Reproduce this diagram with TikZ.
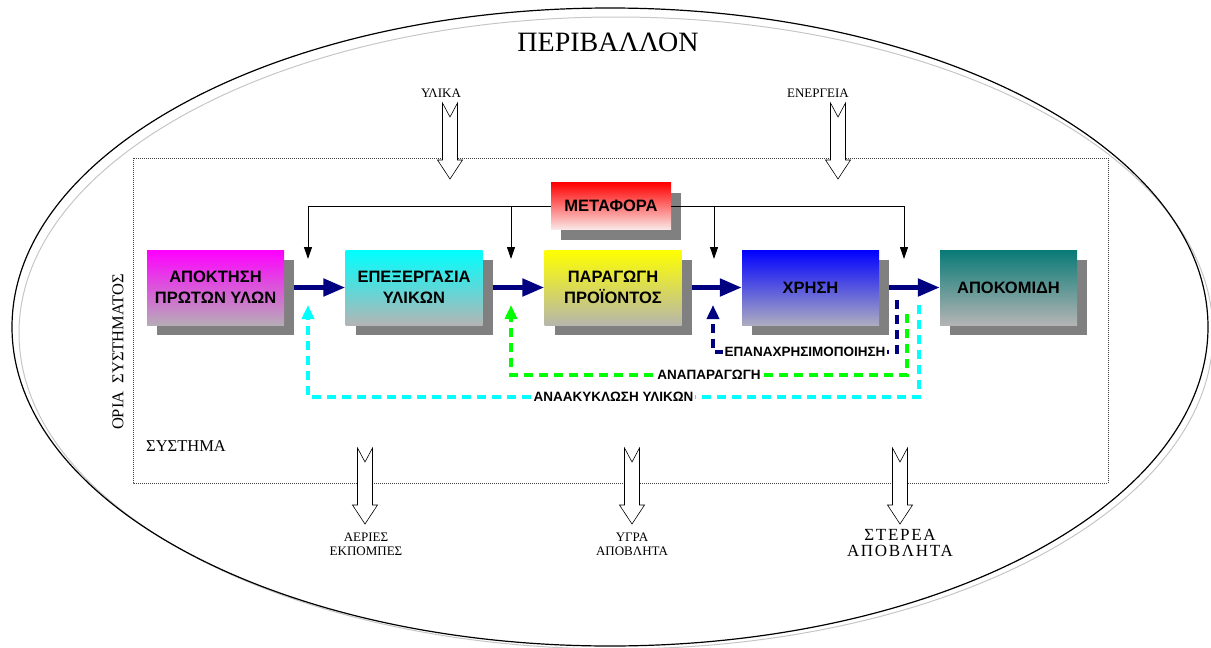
\documentclass[tikz,border=0pt]{standalone}
\usepackage{fontspec}
\setmainfont{Liberation Serif}
\newfontfamily\boxfont{Liberation Sans}
\usetikzlibrary{arrows.meta,shadows}

\definecolor{shadowgray}{RGB}{128,128,128}
\definecolor{navyflow}{RGB}{0,0,128}
\definecolor{cyanflow}{RGB}{0,255,255}
\definecolor{greenflow}{RGB}{0,255,0}
\definecolor{boxbottom}{RGB}{180,180,180}

\tikzset{
  procbox/.style={minimum width=137pt, minimum height=75pt, inner sep=0pt,
    align=center, font=\boxfont\bfseries\fontsize{16.5}{21}\selectfont,
    general shadow={fill=shadowgray, shadow xshift=10pt, shadow yshift=-10pt},
    shading=axis, bottom color=boxbottom},
  flow/.style={navyflow, line width=5pt, -{Triangle[width=17pt,length=22pt]}},
  feed/.style={black, line width=1pt, -{Triangle[width=8pt,length=12pt]}},
  loop/.style={line width=3.5pt, dash pattern=on 9pt off 6pt,
    -{Triangle[width=12pt,length=14pt]}},
  looplabel/.style={fill=white, inner sep=1.5pt, text=black,
    font=\boxfont\bfseries\fontsize{13.5}{16}\selectfont},
  serifsmall/.style={font=\fontsize{13}{14}\selectfont, align=center},
  blockarrow/.pic={
    \draw[fill=white, line width=0.6pt]
      (-7.5,0) -- (0,14) -- (7.5,0) -- (7.5,57) -- (12.5,57) -- (0,76)
      -- (-12.5,57) -- (-7.5,57) -- cycle;
  }
}

\begin{document}
\begin{tikzpicture}[x=1pt, y=-1pt]
\useasboundingbox (0,0) rectangle (1211,648);

% environment boundary
\draw[gray!45, line width=1pt] (616,333) ellipse [x radius=597pt, y radius=316pt];
\draw[black, line width=1.2pt] (610,327) ellipse [x radius=598pt, y radius=319pt];

% system boundary
\draw[black!75, line width=0.8pt, dash pattern=on 1pt off 1pt] (133,158) rectangle (1108,483);

% transport box
\node[procbox, minimum width=120pt, minimum height=47pt,
      top color={rgb,255:red,255;green,0;blue,0}, bottom color={rgb,255:red,250;green,232;blue,232}]
      (mt) at (611,206) {ΜΕΤΑΦΟΡΑ};

% process chain
\node[procbox, top color={rgb,255:red,255;green,0;blue,255}, bottom color={rgb,255:red,182;green,172;blue,182}]
      (b1) at (215.5,287.5) {ΑΠΟΚΤΗΣΗ\\ΠΡΩΤΩΝ ΥΛΩΝ};
\node[procbox, top color={rgb,255:red,0;green,255;blue,255}]
      (b2) at (414,287.5) {ΕΠΕΞΕΡΓΑΣΙΑ\\ΥΛΙΚΩΝ};
\node[procbox, top color={rgb,255:red,255;green,255;blue,0}, bottom color={rgb,255:red,182;green,182;blue,172}]
      (b3) at (613,287.5) {ΠΑΡΑΓΩΓΗ\\ΠΡΟΪΟΝΤΟΣ};
\node[procbox, top color={rgb,255:red,0;green,0;blue,255}, bottom color={rgb,255:red,172;green,172;blue,192}]
      (b4) at (810.5,287.5) {ΧΡΗΣΗ};
\node[procbox, top color={rgb,255:red,8;green,122;blue,118}]
      (b5) at (1008.5,287.5) {ΑΠΟΚΟΜΙΔΗ};

% transport feeds
\coordinate (d1) at (308,259);
\coordinate (d2) at (511,259);
\coordinate (d3) at (714,259);
\coordinate (d4) at (904,259);
\draw[feed] (mt.west) -| (d1);
\draw[feed] (mt.west) -| (d2);
\draw[feed] (mt.east) -| (d3);
\draw[feed] (mt.east) -| (d4);

% main flow
\draw[flow] ([xshift=10pt]b1.east) -- (b2.west);
\draw[flow] ([xshift=10pt]b2.east) -- (b3.west);
\draw[flow] ([xshift=10pt]b3.east) -- (b4.west);
\draw[flow] ([xshift=10pt]b4.east) -- (b5.west);

% reuse loop
\coordinate (n0) at (897,300);
\coordinate (n1) at (897,352);
\coordinate (n2) at (713,352);
\coordinate (n3) at (713,305);
\draw[loop, navyflow] (n0) -- (n1) -- node[looplabel]{ΕΠΑΝΑΧΡΗΣΙΜΟΠΟΙΗΣΗ} (n2) -- (n3);

% remanufacturing loop
\coordinate (g0) at (907,314);
\coordinate (g1) at (907,375);
\coordinate (g2) at (511,375);
\coordinate (g3) at (511,305);
\draw[loop, greenflow] (g0) -- (g1) -- node[looplabel]{ΑΝΑΠΑΡΑΓΩΓΗ} (g2) -- (g3);

% recycling loop
\coordinate (c0) at (919,305);
\coordinate (c1) at (919,397);
\coordinate (c2) at (308,397);
\coordinate (c3) at (308,305);
\draw[loop, cyanflow] (c0) -- (c1) -- node[looplabel]{ΑΝΑΑΚΥΚΛΩΣΗ ΥΛΙΚΩΝ} (c2) -- (c3);

% inputs and outputs
\pic at (450,103) {blockarrow};
\pic at (838,103) {blockarrow};
\pic at (365,448) {blockarrow};
\pic at (632,448) {blockarrow};
\pic at (900,448) {blockarrow};

% labels
\node[font=\fontsize{28}{32}\selectfont] (env) at (608,42) {ΠΕΡΙΒΑΛΛΟΝ};
\node[serifsmall] (inm) at (441,93) {ΥΛΙΚΑ};
\node[serifsmall] (ine) at (818,93) {ΕΝΕΡΓΕΙΑ};
\node[font=\fontsize{16.5}{19}\selectfont, rotate=90] (bound) at (118,352) {ΟΡΙΑ\ \ ΣΥΣΤΗΜΑΤΟΣ};
\node[font=\fontsize{16.5}{19}\selectfont] (sys) at (186,446) {ΣΥΣΤΗΜΑ};
\node[serifsmall] (outg) at (366,544) {ΑΕΡΙΕΣ\\ΕΚΠΟΜΠΕΣ};
\node[serifsmall] (outl) at (632,544) {ΥΓΡΑ\\ΑΠΟΒΛΗΤΑ};
\node[font=\addfontfeatures{LetterSpace=10}\fontsize{17}{16}\selectfont, align=center] (outs) at (900,543) {ΣΤΕΡΕΑ\\ΑΠΟΒΛΗΤΑ};
\end{tikzpicture}
\end{document}
